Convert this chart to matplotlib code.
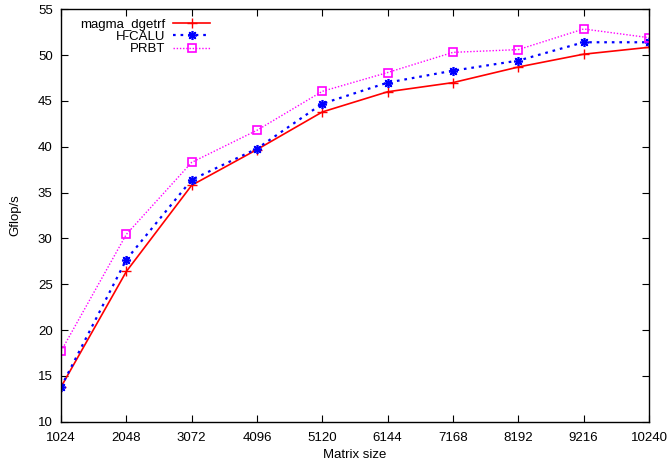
import matplotlib
matplotlib.use("Agg")
import matplotlib.pyplot as plt

plt.rcParams["font.family"] = ["Liberation Sans", "DejaVu Sans"]

sizes = [1024, 2048, 3072, 4096, 5120, 6144, 7168, 8192, 9216, 10240]
magma = [13.8, 26.4, 35.8, 39.7, 43.8, 46.0, 47.0, 48.7, 50.1, 50.85]
hcalu = [13.8, 27.7, 36.4, 39.8, 44.7, 47.0, 48.3, 49.4, 51.4, 51.4]
prbt = [17.7, 30.45, 38.3, 41.8, 46.05, 48.1, 50.3, 50.6, 52.85, 51.9]

fig = plt.figure(figsize=(6.67, 4.63), dpi=100)
ax = fig.add_axes([0.0915, 0.089, 0.8815, 0.891])

ax.plot(sizes, magma, "-", color="#ff0000", linewidth=1.2,
        marker="+", markersize=7, markeredgewidth=1.0, label="magma_dgetrf")
ax.plot(sizes, hcalu, color="#0000ff", linewidth=1.6, linestyle=(0, (1.2, 2.2)),
        marker=(8, 2, 0), markersize=6.5, markeredgewidth=1.2, label="H-CALU")
ax.plot(sizes, prbt, color="#ff00ff", linewidth=1.0, linestyle=(0, (1, 1.3)),
        marker="s", markersize=5.5, fillstyle="none", markeredgewidth=1.2,
        label="PRBT")

ax.set_xlim(1024, 10240)
ax.set_ylim(10, 55)
ax.set_xticks(sizes)
ax.set_yticks(range(10, 56, 5))
ax.tick_params(direction="in", length=5, width=0.8, top=True, right=True,
               labelsize=9.5)
ax.tick_params(axis="x", pad=7)
ax.tick_params(axis="y", pad=6)
for s in ax.spines.values():
    s.set_linewidth(1.0)

ax.set_xlabel("Matrix size", fontsize=9.5, labelpad=4)
ax.set_ylabel("Gflop/s", fontsize=9.5, labelpad=12)

ax.legend(loc="upper left", frameon=False, markerfirst=False, fontsize=9.5,
          handlelength=2.8, handletextpad=0.6, labelspacing=0.0,
          borderaxespad=0.2, bbox_to_anchor=(0.019, 0.9965))

fig.savefig("out.png", dpi=100)
